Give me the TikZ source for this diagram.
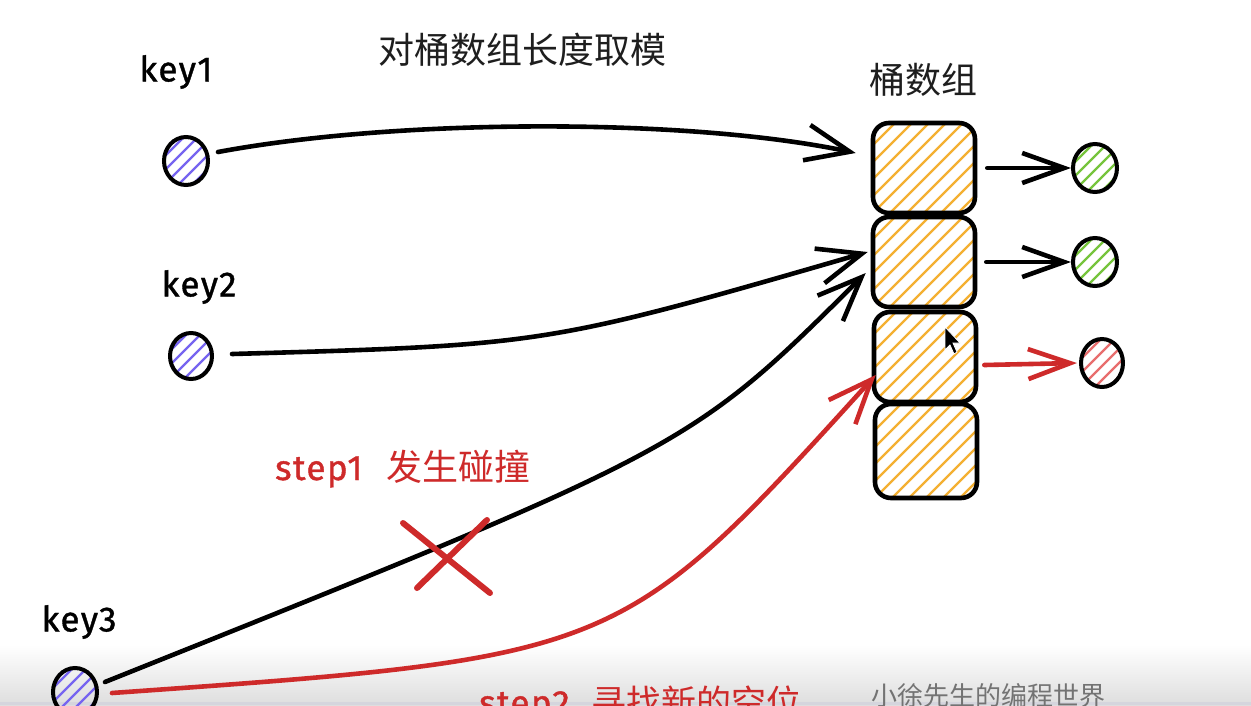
\documentclass[tikz,border=0pt]{standalone}
\usepackage{fontspec}
\setmainfont{Fira Sans}
\newfontfamily\keyfont[FakeBold=1.2,LetterSpace=4]{Fira Sans}
\newfontfamily\cjk{Noto Sans CJK SC}
\usetikzlibrary{arrows.meta,shapes.geometric}
\definecolor{hred}{RGB}{206,42,42}
\definecolor{horange}{RGB}{244,176,50}
\definecolor{hgreen}{RGB}{118,196,60}
\definecolor{hpurple}{RGB}{118,100,240}
\definecolor{hpink}{RGB}{232,110,110}
\definecolor{titlegray}{RGB}{30,30,30}
\tikzset{
  hatch/.style 2 args={path picture={
    \foreach \i in {-9,...,9}
      \draw[#1, line width=2.4pt] ([xshift={\i*#2}]path picture bounding box.south west) -- ++(160pt,160pt);
  }},
  bucket/.style={draw, line width=4.6pt, rounded corners=16pt, minimum width=102pt, minimum height=90pt, inner sep=0pt, hatch={horange}{17pt}},
  keydot/.style={draw, ellipse, line width=4pt, minimum width=44pt, minimum height=48pt, inner sep=0pt, hatch={hpurple}{14pt}},
  greendot/.style={draw, ellipse, line width=4pt, minimum width=44pt, minimum height=48pt, inner sep=0pt, hatch={hgreen}{14pt}},
  reddot/.style={draw, ellipse, line width=4pt, minimum width=42pt, minimum height=48pt, inner sep=0pt, hatch={hpink}{14pt}},
  bigarr/.style={line width=4.6pt, line cap=round, -{Straight Barb[length=44pt,width=36pt]}},
  smallarr/.style={line width=4.6pt, line cap=round, -{Straight Barb[length=42pt,width=30pt]}},
  keylabel/.style={font=\keyfont\fontsize{35}{40}\selectfont, inner sep=0pt},
  cjklabel/.style={font=\cjk\fontsize{36}{40}\selectfont, inner sep=0pt, text=titlegray},
}
\begin{document}
\begin{tikzpicture}[x=1pt,y=-1pt]
\clip (0,0) rectangle (1251,705);
\fill[white] (0,0) rectangle (1251,705);
\shade[top color=white, bottom color=black!13] (0,645) rectangle (1251,705);
\fill[blue!10!gray!30] (0,702) rectangle (1251,705);

% titles
\node[cjklabel] (title) at (522,50) {对桶数组长度取模};
\node[cjklabel] (bucketlabel) at (923,80) {桶数组};

% key labels
\node[keylabel] (key1label) at (176,72) {key1};
\node[keylabel] (key2label) at (199,287) {key2};
\node[keylabel] (key3label) at (79,622) {key3};

% key dots
\node[keydot] (k1) at (186,161) {};
\node[keydot, minimum width=42pt, minimum height=46pt] (k2) at (191,356) {};
\node[keydot] (k3) at (75,692) {};

% buckets
\node[bucket] (b1) at (924,168) {};
\node[bucket] (b2) at (924,262) {};
\node[bucket] (b3) at (925,357) {};
\node[bucket, minimum height=94pt] (b4) at (926,451) {};

% chain dots
\node[greendot] (g1) at (1095,168) {};
\node[greendot] (g2) at (1095,262) {};
\node[reddot] (r1) at (1102,363) {};

% key -> bucket arrows
\draw[bigarr] ([shift={(32pt,9pt)}]k1.center) .. controls (400,118) and (690,118) .. ([shift={(-15pt,15pt)}]b1.west);
\draw[bigarr] ([shift={(41pt,2pt)}]k2.center) .. controls (546,345) .. ([shift={(-3pt,10pt)}]b2.west);
\draw[bigarr] ([shift={(30pt,10pt)}]k3.center) .. controls (690,448) .. ([shift={(-5pt,-11pt)}]b2.west);
\draw[bigarr, hred] ([shift={(37pt,-1pt)}]k3.center) .. controls (620,657) .. ([shift={(4pt,-18pt)}]b3.west);

% bucket -> chain arrows
\draw[smallarr] ([xshift=10pt]b1.east) -- (g1.west);
\draw[smallarr] ([xshift=9pt]b2.east) -- (g2.west);
\draw[smallarr, hred] ([shift={(6pt,-8pt)}]b3.east) -- ([shift={(-2pt,0pt)}]r1.west);

% collision cross
\draw[hred, line width=6pt, line cap=round] (403,523) -- (490,593);
\draw[hred, line width=6pt, line cap=round] (487,520) -- (417,588);

% step labels
\node[text=hred, inner sep=0pt, anchor=base west] (step1) at (275,480) {{\keyfont\fontsize{35}{40}\selectfont step1}\hspace{24pt}{\cjk\fontsize{36}{40}\selectfont 发生碰撞}};
\node[text=hred, inner sep=0pt, anchor=base west] (step2) at (479,715) {{\keyfont\fontsize{35}{40}\selectfont step2}\hspace{22pt}{\cjk\fontsize{35}{40}\selectfont 寻找新的空位}};
\node[text=black!55, inner sep=0pt, anchor=base west, font=\cjk\fontsize{26}{30}\selectfont] (wm) at (871,705) {小徐先生的编程世界};

% mouse cursor
\filldraw[fill=black, draw=white, line width=0.8pt] (945,327) -- (945,350) -- (950,345) -- (954,354) -- (957,352) -- (953,343) -- (960,343) -- cycle;
\end{tikzpicture}
\end{document}
